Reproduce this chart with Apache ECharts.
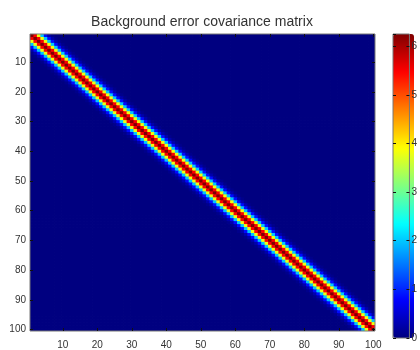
<!DOCTYPE html>
<html>
<head>
<meta charset="utf-8">
<script src="https://cdn.jsdelivr.net/npm/echarts@6/dist/echarts.min.js"></script>
<style>
  html, body { margin: 0; padding: 0; background: #fff; }
  #chart { width: 420px; height: 350px; }
</style>
</head>
<body>
<div id="chart"></div>
<script>
// Matrix size (state dimension)
const gridSize = 100;
// Covariance as a function of distance from the diagonal |i - j|
const bandProfile = [6.25, 5.5, 3.8, 2.0, 0.85, 0.27, 0.07];
// Tick labels
const axisTicks = [10, 20, 30, 40, 50, 60, 70, 80, 90, 100];
const colorbarTicks = [0, 1, 2, 3, 4, 5, 6];
// Jet colour map, evenly spaced stops
const jetColors = ['#000080', '#0000ff', '#0080ff', '#00ffff', '#80ff80',
                   '#ffff00', '#ff8000', '#ff0000', '#800000'];
const colorMin = 0;
const colorMax = 6.25;

const categories = [];
for (let i = 1; i <= gridSize; i++) categories.push(String(i));

const cells = [];
for (let r = 0; r < gridSize; r++) {
  for (let c = 0; c < gridSize; c++) {
    const d = Math.abs(r - c);
    cells.push([c, r, d < bandProfile.length ? bandProfile[d] : 0]);
  }
}

const showAt = (idx) => axisTicks.indexOf(idx + 1) >= 0;
const fontFamily = 'Liberation Sans, Arial, sans-serif';
const labelStyle = { color: '#333', fontSize: 10, fontFamily: fontFamily };
const tickStyle = { color: '#111', width: 1 };

// Each matrix cell is a rectangle centred on its category position,
// padded slightly so neighbouring cells overlap without seams.
function renderCell(params, api) {
  const center = api.coord([api.value(0), api.value(1)]);
  const size = api.size([1, 1]);
  const w = size[0] + 0.8, h = size[1] + 0.8;
  return {
    type: 'rect',
    shape: { x: center[0] - size[0] / 2, y: center[1] - size[1] / 2, width: w, height: h },
    style: { fill: api.visual('color') },
    silent: true
  };
}

const chart = echarts.init(document.getElementById('chart'), null, { renderer: 'canvas' });
chart.setOption({
  animation: false,
  backgroundColor: '#fff',
  title: {
    text: 'Background error covariance matrix',
    left: 197, top: 10, textAlign: 'center',
    textStyle: { fontSize: 14, fontWeight: 'normal', color: '#333', fontFamily: fontFamily }
  },
  grid: [
    { left: 30, top: 34, width: 345, height: 303, show: true, borderColor: '#777', borderWidth: 1, backgroundColor: 'transparent', z: 5 },
    { left: 393, top: 34, width: 21, height: 304, show: true, borderColor: '#777', borderWidth: 1, backgroundColor: 'transparent', z: 5 }
  ],
  xAxis: [
    { gridIndex: 0, type: 'category', data: categories, position: 'bottom', z: 10,
      axisLine: { show: false },
      axisTick: { show: true, inside: true, length: 3, alignWithLabel: true, interval: showAt, lineStyle: tickStyle },
      axisLabel: Object.assign({ interval: showAt, margin: 9 }, labelStyle),
      splitLine: { show: false } },
    { gridIndex: 0, type: 'category', data: categories, position: 'top', z: 10,
      axisLine: { show: false },
      axisTick: { show: true, inside: true, length: 3, alignWithLabel: true, interval: showAt, lineStyle: tickStyle },
      axisLabel: { show: false }, splitLine: { show: false } },
    { gridIndex: 1, type: 'category', data: ['c'], show: false }
  ],
  yAxis: [
    { gridIndex: 0, type: 'category', data: categories, inverse: true, position: 'left', z: 10,
      axisLine: { show: false },
      axisTick: { show: true, inside: true, length: 3, alignWithLabel: true, interval: showAt, lineStyle: tickStyle },
      axisLabel: Object.assign({ interval: showAt, margin: 4 }, labelStyle),
      splitLine: { show: false } },
    { gridIndex: 0, type: 'category', data: categories, inverse: true, position: 'right', z: 10,
      axisLine: { show: false },
      axisTick: { show: true, inside: true, length: 3, alignWithLabel: true, interval: showAt, lineStyle: tickStyle },
      axisLabel: { show: false }, splitLine: { show: false } },
    { gridIndex: 1, type: 'value', min: colorMin, max: colorMax, interval: 1, position: 'right', z: 10,
      axisLine: { show: false },
      axisTick: { show: true, inside: true, length: 3, lineStyle: tickStyle },
      axisLabel: Object.assign({ margin: 2, showMaxLabel: false,
        formatter: (v) => colorbarTicks.indexOf(v) >= 0 ? String(v) : '' }, labelStyle),
      splitLine: { show: false } },
    { gridIndex: 1, type: 'value', min: colorMin, max: colorMax, interval: 1, position: 'left', z: 10,
      axisLine: { show: false },
      axisTick: { show: true, inside: true, length: 3, lineStyle: tickStyle },
      axisLabel: { show: false }, splitLine: { show: false } }
  ],
  visualMap: {
    type: 'continuous',
    min: colorMin, max: colorMax,
    seriesIndex: 0,
    dimension: 2,
    calculable: false,
    orient: 'vertical',
    left: 393, top: 34,
    itemWidth: 21, itemHeight: 304,
    padding: 0,
    text: null,
    showLabel: false,
    z: 1,
    inRange: { color: jetColors }
  },
  series: [{
    type: 'custom',
    coordinateSystem: 'cartesian2d',
    xAxisIndex: 0, yAxisIndex: 0,
    data: cells,
    encode: { x: 0, y: 1 },
    renderItem: renderCell,
    clip: true,
    z: 2,
    progressive: 0
  }]
});
</script>
</body>
</html>
